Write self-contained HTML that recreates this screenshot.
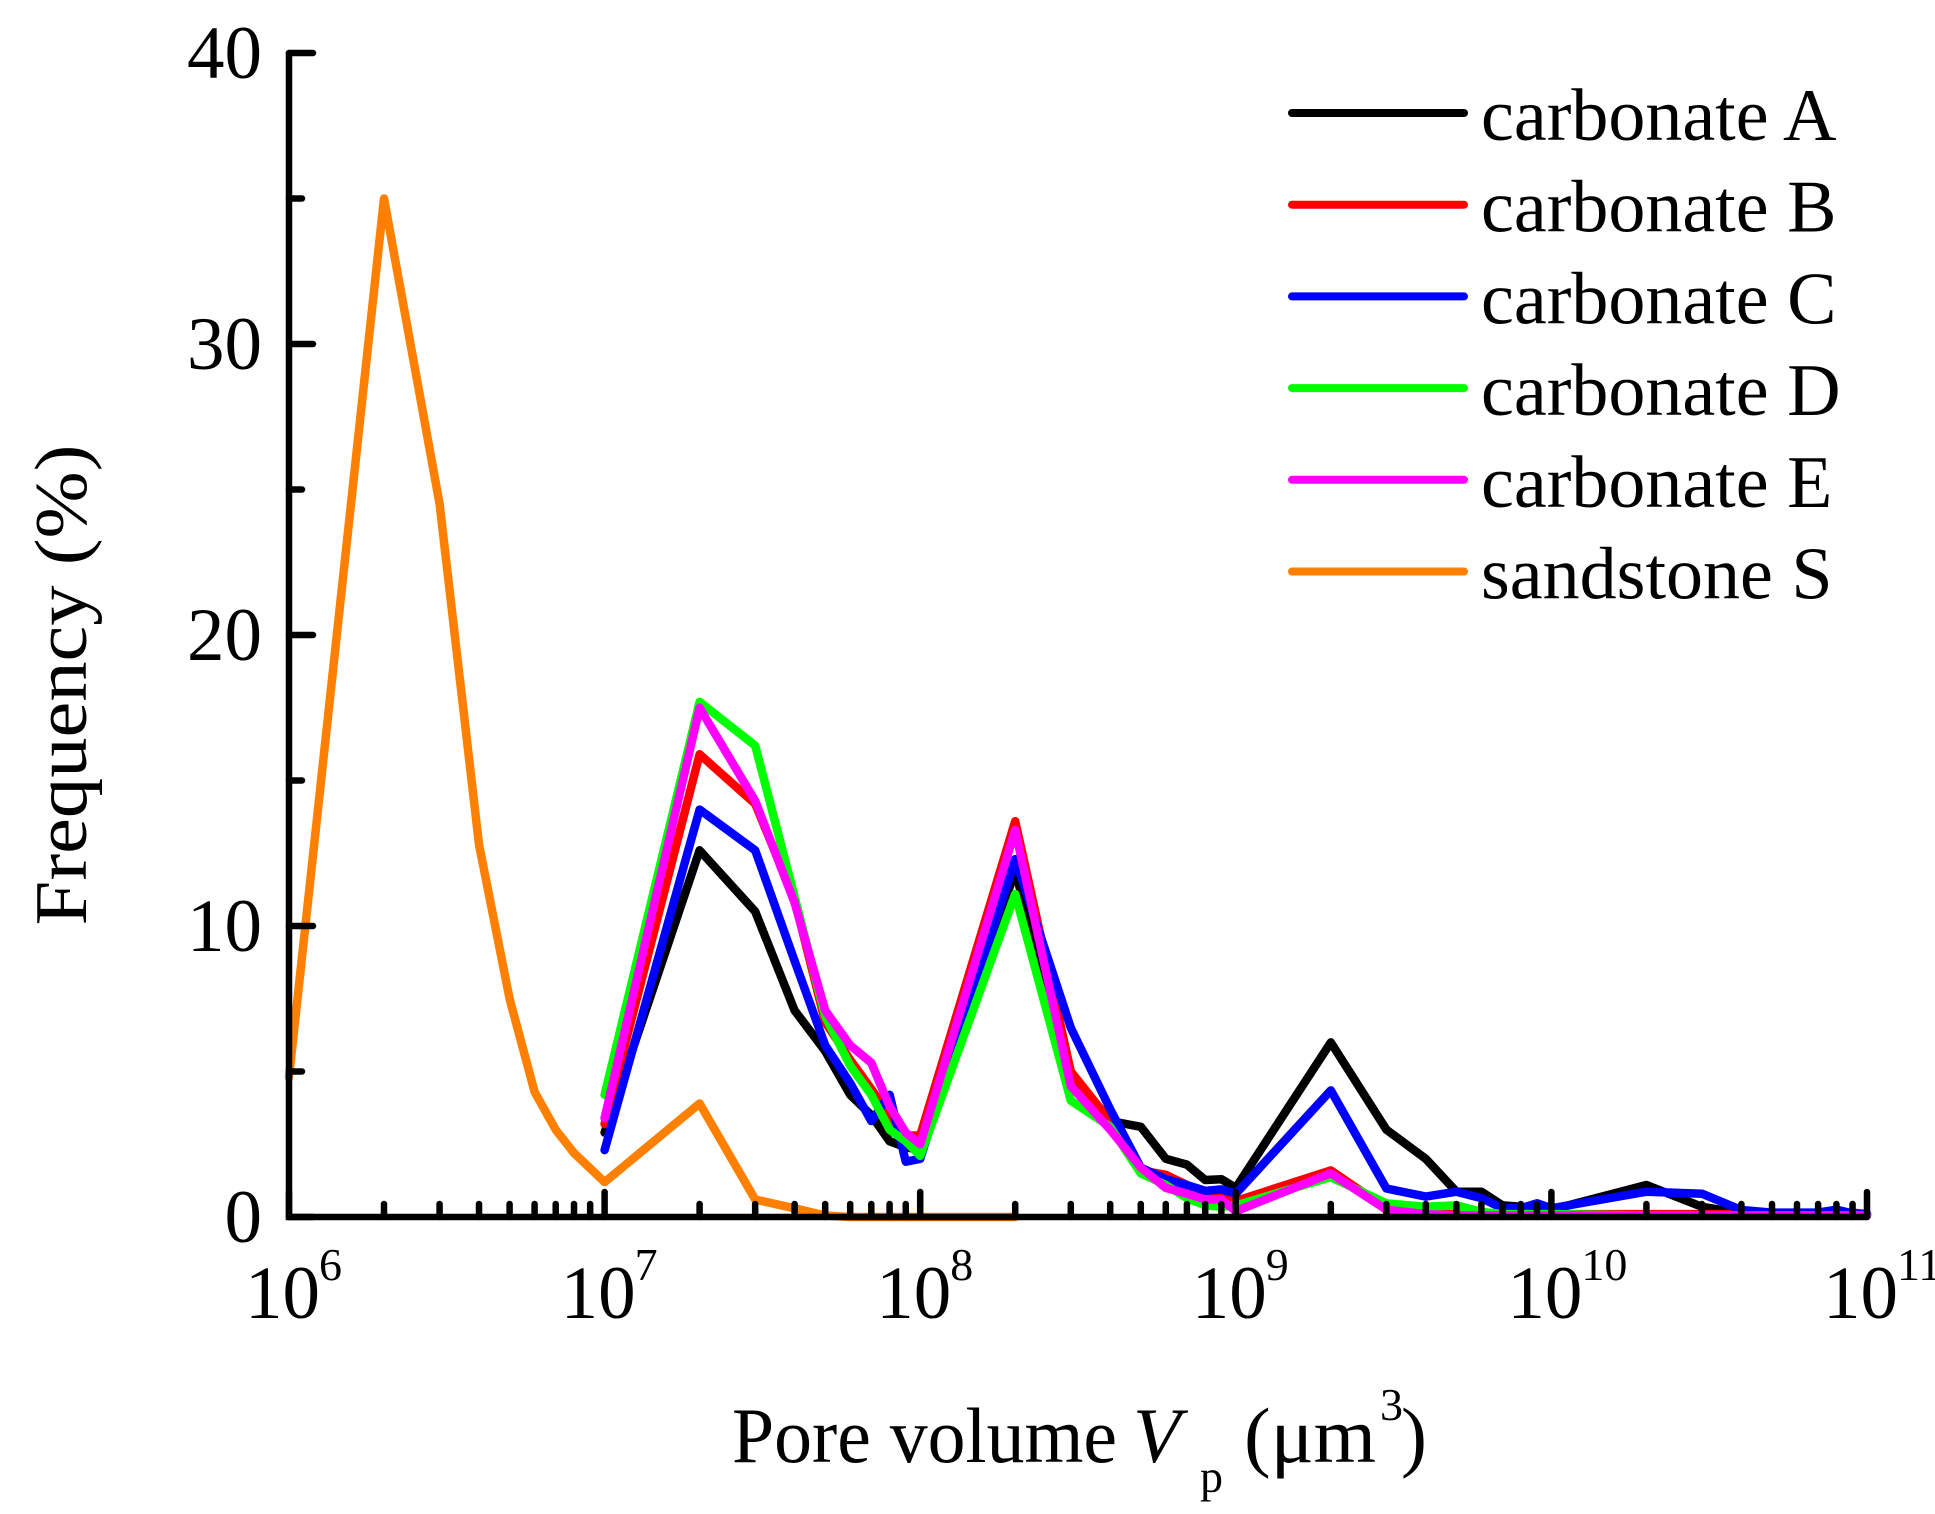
<!DOCTYPE html>
<html><head><meta charset="utf-8"><style>
html,body{margin:0;padding:0;background:#fff;}
svg{display:block;font-family:"Liberation Serif","DejaVu Serif",serif;}
</style></head><body>
<svg id="chart" width="1935" height="1514" viewBox="0 0 1935 1514">
<g id="series"></g>
<g id="axes"></g>
<g id="legend"></g>
<text x="732" y="1462" font-size="78" textLength="385" lengthAdjust="spacingAndGlyphs">Pore volume</text>
<text x="1133" y="1462" font-size="78" font-style="italic">V</text>
<text x="1200" y="1492" font-size="46">p</text>
<text x="1244" y="1462" font-size="78" textLength="132" lengthAdjust="spacingAndGlyphs">(μm</text>
<text x="1380" y="1420" font-size="46">3</text>
<text x="1401" y="1462" font-size="78">)</text>
<text transform="translate(86,685) rotate(-90)" text-anchor="middle" font-size="74" textLength="481" lengthAdjust="spacingAndGlyphs">Frequency (%)</text>
</svg>
<script>
const xs = [1e7,2e7,3e7,4e7,5e7,6e7,7e7,8e7,9e7,1e8,2e8,3e8,4e8,5e8,6e8,7e8,8e8,9e8,1e9,2e9,3e9,4e9,5e9,6e9,7e9,8e9,9e9,1e10,2e10,3e10,4e10,5e10,6e10,7e10,8e10,9e10,1e11];
const seriesA = [2.9,12.6,10.5,7.1,5.7,4.2,3.5,2.6,2.4,2.3,11.9,4.7,3.3,3.1,2.0,1.8,1.27,1.3,1.0,6.0,3.0,2.0,0.87,0.87,0.4,0.35,0.25,0.25,1.1,0.35,0.13,0.1,0.1,0.1,0.1,0.1,0.1];
const seriesB = [3.2,15.9,14.2,10.9,6.7,5.4,4.4,3.5,2.8,2.8,13.6,5.0,3.3,1.6,1.45,1.1,0.75,0.7,0.55,1.6,0.3,0.1,0.1,0.1,0.1,0.1,0.1,0.1,0.1,0.1,0.1,0.1,0.1,0.1,0.1,0.15,0.1];
const seriesC = [2.3,14.0,12.6,8.8,5.9,4.6,3.3,4.2,1.9,2.0,12.3,6.5,3.7,1.7,1.3,1.1,0.9,0.95,0.8,4.35,0.98,0.7,0.87,0.65,0.3,0.3,0.47,0.3,0.87,0.8,0.24,0.15,0.15,0.15,0.25,0.12,0.1];
const seriesD = [4.2,17.7,16.2,11.0,6.9,5.2,4.2,3.0,2.6,2.1,11.1,4.0,3.1,1.5,1.1,0.65,0.4,0.35,0.4,1.37,0.47,0.35,0.4,0.18,0.1,0.1,0.1,0.1,0.05,0.05,0.05,0.05,0.05,0.05,0.05,0.05,0.05];
const seriesE = [3.4,17.5,14.3,10.8,7.1,5.9,5.3,3.8,2.9,2.5,13.3,4.5,3.0,1.7,1.0,0.8,0.6,0.6,0.2,1.5,0.25,0.1,0.05,0.05,0.05,0.05,0.05,0.05,0.05,0.05,0.05,0.05,0.05,0.05,0.05,0.05,0.05];
const xsS = [1e6,2e6,3e6,4e6,5e6,6e6,7e6,8e6,1e7,2e7,3e7,4e7,5e7,6e7,1e8,2e8];
const seriesS = [4.8,35,24.5,12.8,7.5,4.3,3.0,2.2,1.2,3.9,0.6,0.3,0.05,0,0,0];
const legendLabels = ["carbonate A","carbonate B","carbonate C","carbonate D","carbonate E","sandstone S"];
const colors = ["#000000","#ff0000","#0000ff","#00ff00","#ff00ff","#ff8000"];
const yTicks = [0,10,20,30,40];
const yMinor = [5,15,25,35];
const xDecades = [6,7,8,9,10,11];

const NS = "http://www.w3.org/2000/svg";
const X0 = 289, DEC = 315.6, Y0 = 1217, PY = 29.1;
function xp(v){ return X0 + (Math.log10(v) - 6) * DEC; }
function yp(f){ return Y0 - f * PY; }
function mk(tag, attrs, parent){ const e = document.createElementNS(NS, tag); for (const k in attrs) e.setAttribute(k, attrs[k]); parent.appendChild(e); return e; }

const sg = document.getElementById('series');
const all = [[xs,seriesA],[xs,seriesB],[xs,seriesC],[xs,seriesD],[xs,seriesE],[xsS,seriesS]];
const names = ["line-carbonate-a","line-carbonate-b","line-carbonate-c","line-carbonate-d","line-carbonate-e","line-sandstone-s"];
const order = [5,0,1,2,3,4];
order.forEach(i => {
  const [xv, yv] = all[i];
  const pts = xv.map((v, j) => xp(v).toFixed(1) + "," + yp(yv[j]).toFixed(1)).join(" ");
  const pl = mk('polyline', {points: pts, fill: 'none', stroke: colors[i], 'stroke-width': 8.5, 'stroke-linejoin': 'round', 'stroke-linecap': 'round'}, sg);
  
  
});

const ax = document.getElementById('axes');
const frame = mk('path', {d: `M${X0},${yp(40)} V${Y0} H${xp(1e11)}`, fill: 'none', stroke: '#000', 'stroke-width': 6.5, 'stroke-linecap': 'round'}, ax);


yTicks.forEach(t => {
  const tk = mk('line', {x1: X0, x2: X0 + 24, y1: yp(t), y2: yp(t), stroke: '#000', 'stroke-width': 6.5, 'stroke-linecap': 'round'}, ax);
  
  
  const lb = mk('text', {x: 262, y: yp(t) + 25, 'text-anchor': 'end', 'font-size': 75}, ax);
  lb.textContent = t;
  
  
});
yMinor.forEach(t => {
  const tk = mk('line', {x1: X0, x2: X0 + 13, y1: yp(t), y2: yp(t), stroke: '#000', 'stroke-width': 6.5, 'stroke-linecap': 'round'}, ax);
  
  
});
xDecades.forEach(d => {
  const x = xp(Math.pow(10, d));
  const tk = mk('line', {x1: x, x2: x, y1: Y0, y2: Y0 - 25, stroke: '#000', 'stroke-width': 6.5, 'stroke-linecap': 'round'}, ax);
  
  
  const lb = mk('text', {x: x - 44, y: 1318, 'font-size': 75}, ax);
  lb.textContent = "10";
  
  
  const sp = mk('text', {x: x + 30, y: 1280, 'font-size': 46}, ax);
  sp.textContent = String(d);
  
  
  if (d < 11) {
    for (let m = 2; m <= 9; m++) {
      const xm = xp(m * Math.pow(10, d));
      const mt = mk('line', {x1: xm, x2: xm, y1: Y0, y2: Y0 - 13, stroke: '#000', 'stroke-width': 6.5, 'stroke-linecap': 'round'}, ax);
      
      
    }
  }
});

const lg = document.getElementById('legend');
legendLabels.forEach((l, i) => {
  const y = 113 + i * 91.7;
  const ln = mk('line', {x1: 1292, x2: 1464, y1: y, y2: y, stroke: colors[i], 'stroke-width': 8, 'stroke-linecap': 'round'}, lg);
  
  
  const tx = mk('text', {x: 1481, y: y + 27, 'font-size': 74}, lg);
  tx.textContent = l;
  
  
});
</script>
</body></html>
